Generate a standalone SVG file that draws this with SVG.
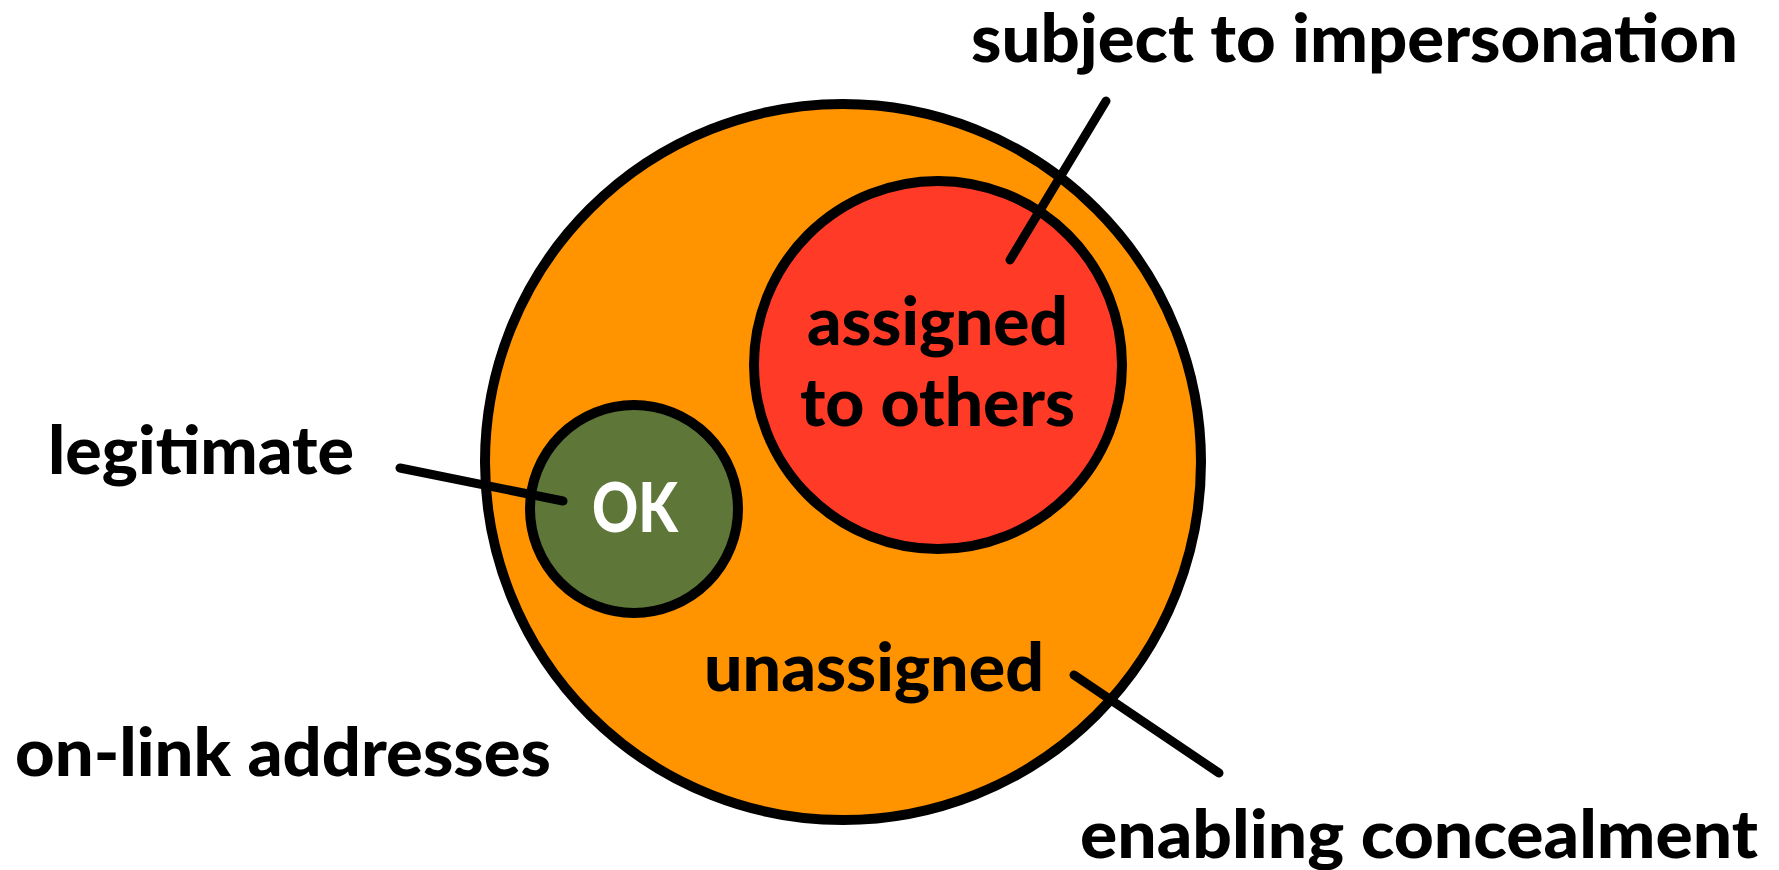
<svg xmlns="http://www.w3.org/2000/svg" width="1779" height="870" viewBox="0 0 1779 870">
<style>
.set{stroke:#000;stroke-width:10}
.lbl{font-family:Lato,"Open Sans","Liberation Sans",sans-serif;font-weight:900;font-size:66px;fill:#000}
.ok{font-family:Lato,"Open Sans","Liberation Sans",sans-serif;font-weight:900;font-size:69px;fill:#fff}
.conn{stroke:#000;stroke-width:9;stroke-linecap:round;fill:none}
</style>
<rect width="1779" height="870" fill="#fff"/>
<g id="onlink">
<circle class="set" cx="843" cy="462" r="358" fill="#FF9300"/>
<text class="lbl" x="15" y="776" textLength="536" lengthAdjust="spacingAndGlyphs">on-link addresses</text>
<text class="lbl" x="704" y="691" textLength="340" lengthAdjust="spacingAndGlyphs">unassigned</text>
</g>
<g id="assigned">
<circle class="set" cx="938" cy="365" r="184" fill="#FF3B28"/>
<text class="lbl" x="807" y="345" textLength="261" lengthAdjust="spacingAndGlyphs">assigned</text>
<text class="lbl" x="800" y="426" textLength="275" lengthAdjust="spacingAndGlyphs">to others</text>
</g>
<g id="ok">
<circle class="set" cx="634" cy="509" r="104" fill="#5E7738"/>
<text class="ok" x="592" y="532" textLength="86" lengthAdjust="spacingAndGlyphs">OK</text>
</g>
<g id="labels">
<text class="lbl" x="971" y="62" font-size="63" textLength="767" lengthAdjust="spacingAndGlyphs">subject to impersonation</text>
<text class="lbl" x="48" y="474" textLength="306" lengthAdjust="spacingAndGlyphs">legitimate</text>
<text class="lbl" x="1080" y="858" textLength="678" lengthAdjust="spacingAndGlyphs">enabling concealment</text>
</g>
<g id="connectors">
<line class="conn" x1="1106" y1="101" x2="1010" y2="260"/>
<line class="conn" x1="400" y1="468" x2="563" y2="501"/>
<line class="conn" x1="1074" y1="675" x2="1219" y2="773"/>
</g>
</svg>
